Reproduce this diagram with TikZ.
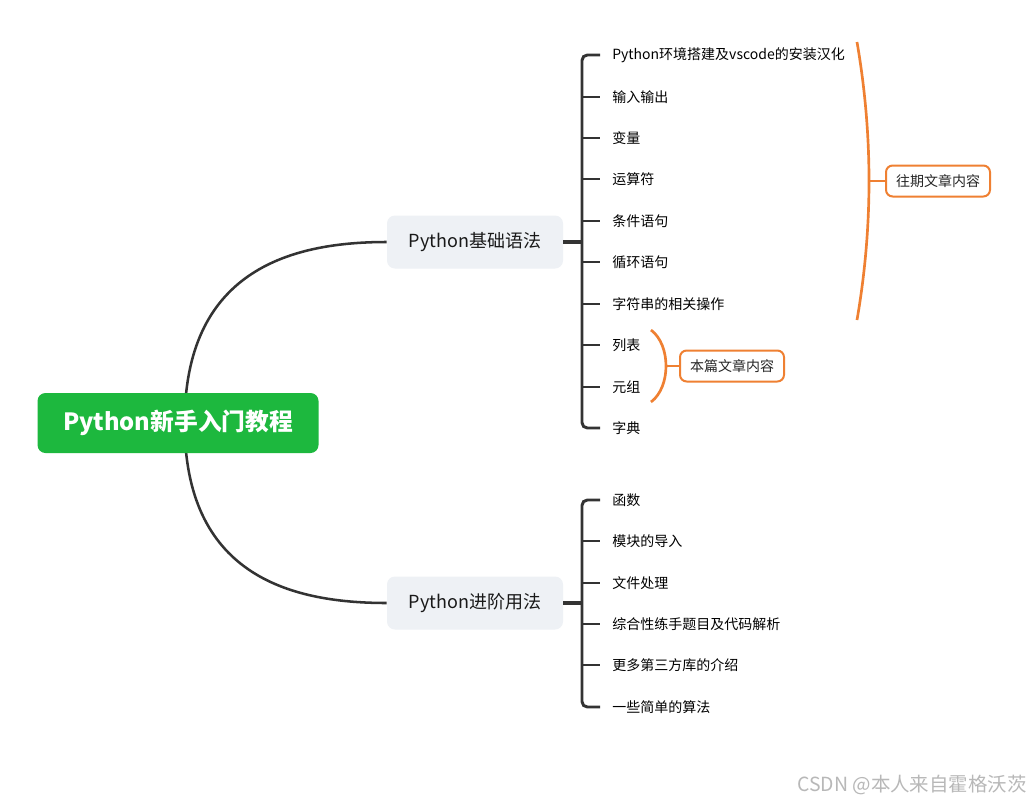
\documentclass[tikz,border=0pt]{standalone}
\usepackage{fontspec}
\setmainfont{Noto Sans CJK SC}
\usepackage{xcolor}
\usetikzlibrary{calc,positioning,backgrounds}

\definecolor{rootgreen}{HTML}{1DB83E}
\definecolor{boxgray}{HTML}{EEF1F5}
\definecolor{linedark}{HTML}{333333}
\definecolor{noteorange}{HTML}{EF8032}

\begin{document}
\begin{tikzpicture}[
  x=0.75pt,
  y=-0.75pt,
  root/.style={
    fill=rootgreen,
    text=white,
    rounded corners=6pt,
    minimum width=210.75pt,
    minimum height=45pt,
    font=\fontsize{17.8}{22}\selectfont\bfseries
  },
  branch/.style={
    fill=boxgray,
    text=black!90,
    rounded corners=6pt,
    minimum width=132pt,
    minimum height=39.75pt,
    font=\fontsize{13.5}{16}\selectfont
  },
  leaf/.style={
    anchor=west,
    inner sep=0pt,
    text=black,
    font=\fontsize{10.5}{13}\selectfont
  },
  note/.style={
    draw=noteorange,
    line width=1.5pt,
    fill=white,
    text=black!85,
    rounded corners=5pt,
    minimum width=78pt,
    minimum height=23.25pt,
    font=\fontsize{10.5}{13}\selectfont
  },
  watermark/.style={
    anchor=east,
    inner sep=0pt,
    text=black!28,
    font=\fontsize{14.6}{17}\selectfont
  },
  link/.style={draw=linedark,line width=1.9pt},
  spine/.style={draw=linedark,line width=2.2pt},
  stem/.style={draw=linedark,line width=3pt},
  brace/.style={draw=noteorange,line width=2pt}
]
\useasboundingbox (0,0) rectangle (1031,803);

\node[root] (root) at (178,423) {Python新手入门教程};
\node[branch] (b1) at (475,242) {Python基础语法};
\node[branch] (b2) at (475,603) {Python进阶用法};

% basic syntax
\node[leaf] (c1) at (612,55) {Python环境搭建及vscode的安装汉化};
\node[leaf] (c2) at (612,97) {输入输出};
\node[leaf] (c3) at (612,138) {变量};
\node[leaf] (c4) at (612,179) {运算符};
\node[leaf] (c5) at (612,221) {条件语句};
\node[leaf] (c6) at (612,262) {循环语句};
\node[leaf] (c7) at (612,304) {字符串的相关操作};
\node[leaf] (c8) at (612,345) {列表};
\node[leaf] (c9) at (612,387) {元组};
\node[leaf] (c10) at (612,428) {字典};

% advanced usage
\node[leaf] (d1) at (612,500) {函数};
\node[leaf] (d2) at (612,541) {模块的导入};
\node[leaf] (d3) at (612,583) {文件处理};
\node[leaf] (d4) at (612,624) {综合性练手题目及代码解析};
\node[leaf] (d5) at (612,665) {更多第三方库的介绍};
\node[leaf] (d6) at (612,707) {一些简单的算法};

\node[note] (old) at (938,181) {往期文章内容};
\node[note] (new) at (732,366) {本篇文章内容};

\node[watermark] (csdn) at (1027,785) {CSDN @本人来自霍格沃茨};

\coordinate (s1) at (582,242);
\coordinate (s2) at (582,603);
\coordinate (m1) at (869,181);
\coordinate (m2) at (666,366);

\begin{scope}[on background layer]
  \fill[white] (0,0) rectangle (1031,803);
  \draw[link] ([xshift=5pt]root.center) .. controls +(0,-150) and +(-100,0) .. (b1.west);
  \draw[link] ([xshift=5pt]root.center) .. controls +(0,150) and +(-100,0) .. (b2.west);
\end{scope}

% first bracket
\draw[stem] (b1.east) -- (s1);
\draw[spine,rounded corners=4pt] ($(c1.west)+(-12,0)$) -| (s1) |- ($(c10.west)+(-12,0)$);
\draw[spine] (s1 |- c2.west) -- ($(c2.west)+(-12,0)$);
\draw[spine] (s1 |- c3.west) -- ($(c3.west)+(-12,0)$);
\draw[spine] (s1 |- c4.west) -- ($(c4.west)+(-12,0)$);
\draw[spine] (s1 |- c5.west) -- ($(c5.west)+(-12,0)$);
\draw[spine] (s1 |- c6.west) -- ($(c6.west)+(-12,0)$);
\draw[spine] (s1 |- c7.west) -- ($(c7.west)+(-12,0)$);
\draw[spine] (s1 |- c8.west) -- ($(c8.west)+(-12,0)$);
\draw[spine] (s1 |- c9.west) -- ($(c9.west)+(-12,0)$);

% second bracket
\draw[stem] (b2.east) -- (s2);
\draw[spine,rounded corners=4pt] ($(d1.west)+(-12,0)$) -| (s2) |- ($(d6.west)+(-12,0)$);
\draw[spine] (s2 |- d2.west) -- ($(d2.west)+(-12,0)$);
\draw[spine] (s2 |- d3.west) -- ($(d3.west)+(-12,0)$);
\draw[spine] (s2 |- d4.west) -- ($(d4.west)+(-12,0)$);
\draw[spine] (s2 |- d5.west) -- ($(d5.west)+(-12,0)$);

% summary braces
\draw[brace] (857,42) .. controls (873,135) and (873,227) .. (857,320);
\draw[brace] (m1) -- (old);
\draw[brace] (651,330) .. controls (671,345) and (671,387) .. (651,402);
\draw[brace] (m2) -- (new);
\end{tikzpicture}
\end{document}
